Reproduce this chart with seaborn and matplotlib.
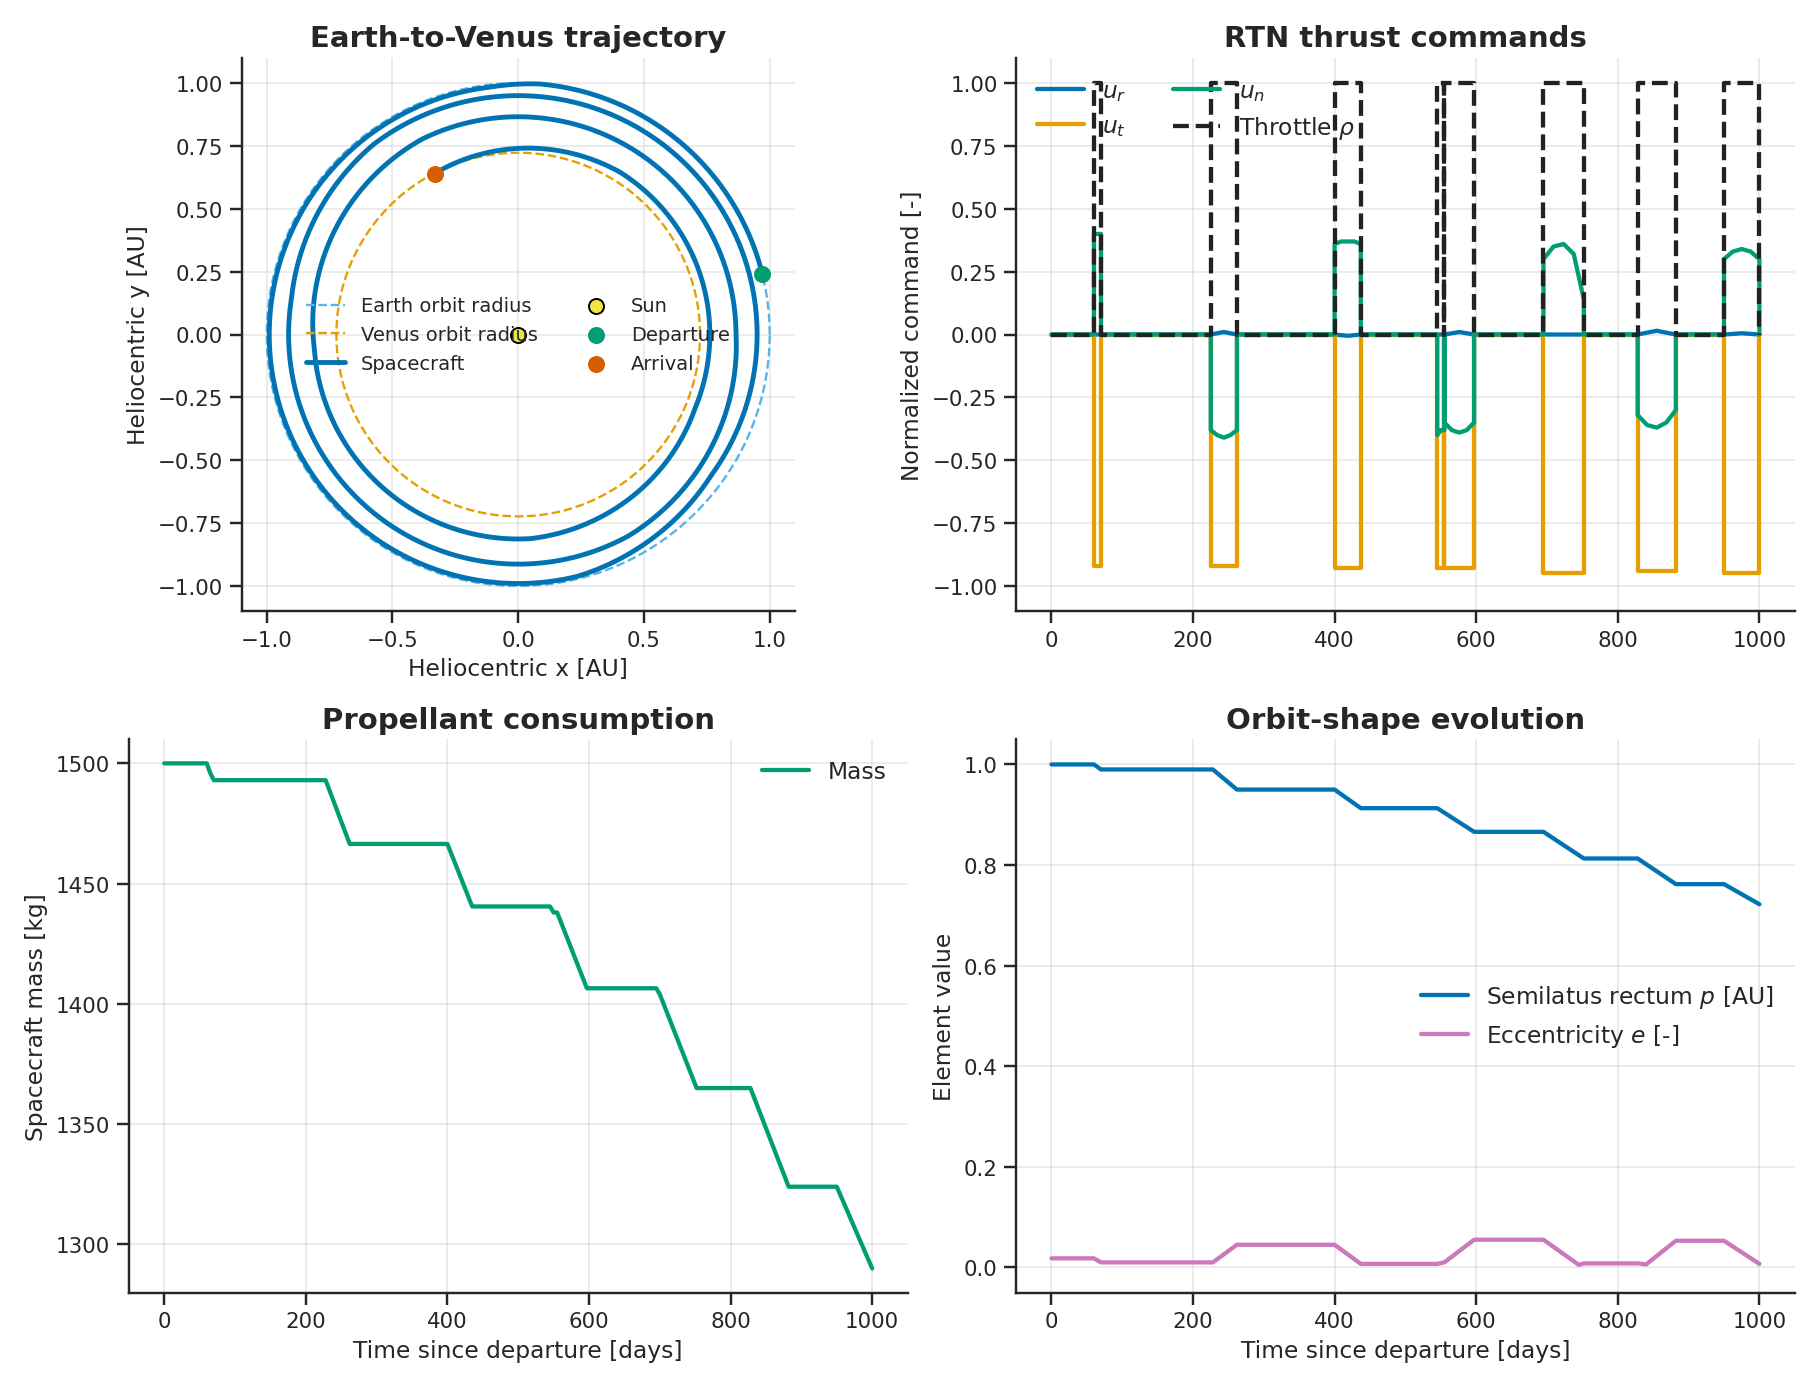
import numpy as np
import matplotlib
matplotlib.use("Agg")
import matplotlib.pyplot as plt
import seaborn as sns

# ---- data ----
p_t = [0, 60, 70, 228, 262, 400, 437, 545, 597, 695, 752, 828, 882, 950, 1000]
p_v = [1.0, 1.0, 0.99, 0.99, 0.95, 0.95, 0.913, 0.913, 0.866, 0.866, 0.813, 0.813, 0.762, 0.762, 0.722]
e_t = [0, 60, 70, 228, 262, 400, 437, 545, 555, 597, 695, 745, 752, 828, 840, 882, 950, 1000]
e_v = [0.018, 0.018, 0.01, 0.01, 0.045, 0.045, 0.007, 0.007, 0.01, 0.055, 0.055, 0.005, 0.008, 0.008, 0.006, 0.053, 0.053, 0.007]
mass_t = [0, 60, 65, 70, 228, 262, 400, 435, 545, 550, 555, 597, 695, 700, 752, 828, 882, 950, 1000]
mass_v = [1500, 1500, 1496, 1493, 1493, 1466.5, 1466.5, 1440.5, 1440.5, 1438, 1438, 1406.5, 1406.5, 1404, 1365, 1365, 1324, 1324, 1290]
ang_t = [0, 1000]
ang_v = [14, 1197]
departure = (0.97, 0.24)
arrival = (-0.33, 0.64)
earth_r = 1.0
venus_r = 0.723
arcs = [(60, 70), (225, 262), (400, 437), (545, 555), (555, 597), (695, 752), (828, 882), (950, 1000)]
ut_on = [-0.92, -0.92, -0.93, -0.93, -0.93, -0.95, -0.94, -0.95]
un_start = [0.40, -0.38, 0.36, -0.40, -0.35, 0.30, -0.32, 0.30]
un_q1 = [0.40, -0.40, 0.37, -0.39, -0.38, 0.35, -0.36, 0.33]
un_mid = [0.40, -0.41, 0.37, -0.38, -0.39, 0.36, -0.37, 0.34]
un_q3 = [0.40, -0.40, 0.37, -0.38, -0.38, 0.32, -0.35, 0.33]
un_end = [0.40, -0.38, 0.36, -0.38, -0.35, 0.14, -0.30, 0.30]
ur_mid = [0.0, 0.01, -0.005, 0.0, 0.01, 0.0, 0.015, 0.005]

sns.set_theme(style="ticks", context="notebook")
pal = sns.color_palette("colorblind")
blue, green, red, pink = pal[0], pal[2], pal[3], pal[4]
orange = "#E69F00"

fig, axs = plt.subplots(2, 2, figsize=(13, 9.914), dpi=140)

ax = axs[0, 0]
th = np.linspace(0, 2*np.pi, 400)
ax.plot(earth_r*np.cos(th), earth_r*np.sin(th), ls="--", color="#56b4e9", lw=1.2, label="Earth orbit radius")
ax.plot(venus_r*np.cos(th), venus_r*np.sin(th), ls="--", color=orange, lw=1.2, label="Venus orbit radius")
tt = np.linspace(0, 1000, 3000)
r = np.interp(tt, p_t, p_v)
a = np.deg2rad(np.interp(tt, ang_t, ang_v))
ax.plot(r*np.cos(a), r*np.sin(a), color=blue, lw=2.5, label="Spacecraft")
ax.scatter([0], [0], s=60, color="#f0e442", edgecolor="black", zorder=5, label="Sun")
ax.scatter([departure[0]], [departure[1]], s=60, color=green, zorder=5, label="Departure")
ax.scatter([arrival[0]], [arrival[1]], s=60, color=red, zorder=5, label="Arrival")
ax.set_aspect("equal")
ax.set_xlim(-1.1, 1.1); ax.set_ylim(-1.1, 1.1)
ax.set_xlabel("Heliocentric x [AU]"); ax.set_ylabel("Heliocentric y [AU]")
ax.set_title("Earth-to-Venus trajectory", fontweight="bold")
ax.legend(loc="center", ncol=2, frameon=False, fontsize=10)
ax.grid(alpha=0.4)

ax = axs[0, 1]
tr_t, tr_v, ut_t, ut_v, un_t, un_v, ur_t, ur_v = [0], [0], [0], [0], [0], [0], [0], [0]
for i, (s, e) in enumerate(arcs):
    m = (s + e) / 2
    tr_t += [s, s, e, e]; tr_v += [0, 1, 1, 0]
    ut_t += [s, s, e, e]; ut_v += [0, ut_on[i], ut_on[i], 0]
    un_t += [s, s, (s+m)/2, m, (m+e)/2, e, e]
    un_v += [0, un_start[i], un_q1[i], un_mid[i], un_q3[i], un_end[i], 0]
    ur_t += [s, m, e]; ur_v += [0, ur_mid[i], 0]
for L in (tr_t, ut_t, un_t, ur_t):
    L.append(1000)
for L in (tr_v, ut_v, un_v, ur_v):
    L.append(0)
ax.plot(ur_t, ur_v, color=blue, lw=2.2, label="$u_r$")
ax.plot(ut_t, ut_v, color=orange, lw=2.2, label="$u_t$")
ax.plot(un_t, un_v, color=green, lw=2.2, label="$u_n$")
ax.plot(tr_t, tr_v, color="#222222", lw=2.2, ls="--", label=r"Throttle $\rho$")
ax.set_ylabel("Normalized command [-]")
ax.set_title("RTN thrust commands", fontweight="bold")
ax.set_ylim(-1.1, 1.1)
ax.legend(loc="upper left", ncol=2, frameon=False, fontsize=12)
ax.grid(alpha=0.4)

ax = axs[1, 0]
ax.plot(mass_t, mass_v, color=green, lw=2.2, label="Mass")
ax.set_xlabel("Time since departure [days]"); ax.set_ylabel("Spacecraft mass [kg]")
ax.set_title("Propellant consumption", fontweight="bold")
ax.set_ylim(1280, 1510)
ax.legend(loc="upper right", frameon=False, fontsize=12)
ax.grid(alpha=0.4)

ax = axs[1, 1]
ax.plot(p_t, p_v, color=blue, lw=2.2, label="Semilatus rectum $p$ [AU]")
ax.plot(e_t, e_v, color=pink, lw=2.2, label="Eccentricity $e$ [-]")
ax.set_xlabel("Time since departure [days]"); ax.set_ylabel("Element value")
ax.set_title("Orbit-shape evolution", fontweight="bold")
ax.set_ylim(-0.05, 1.05)
ax.legend(loc="center right", frameon=False, fontsize=12)
ax.grid(alpha=0.4)

for ax in axs.flat:
    sns.despine(ax=ax)
    ax.title.set_fontsize(15)
fig.tight_layout()
fig.savefig("out.png")
